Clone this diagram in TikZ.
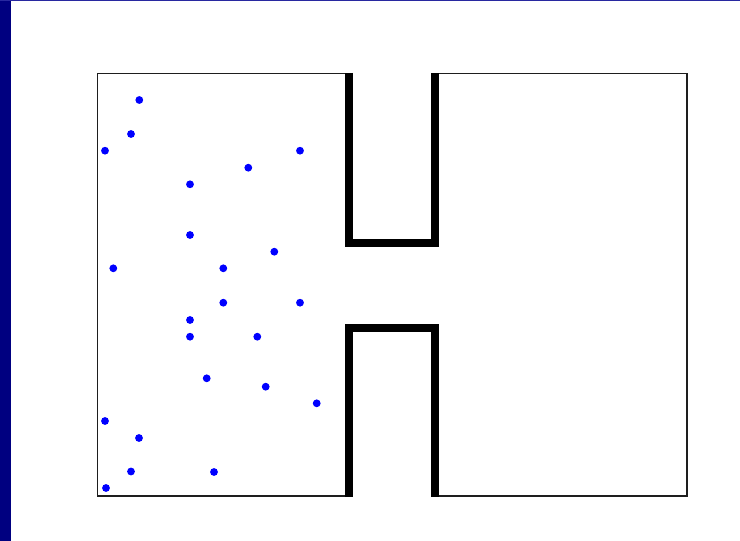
\documentclass[tikz,border=0pt]{standalone}
\definecolor{navybar}{RGB}{0,0,128}
\definecolor{topline}{RGB}{40,40,160}
\definecolor{dotblue}{RGB}{0,0,255}
\definecolor{wallgray}{RGB}{30,30,30}
\tikzset{
  thinwall/.style={draw=wallgray, line width=1.5pt, line join=miter},
  thickwall/.style={draw=black, line width=8pt, line join=miter, line cap=butt},
  particle/.style={fill=dotblue, draw=none},
}
\begin{document}
\begin{tikzpicture}[x=1pt,y=-1pt]
  \useasboundingbox (0,0) rectangle (740,541);
  \fill[white] (0,0) rectangle (740,541);
  % frame
  \fill[navybar] (0,0) rectangle (10.5,541);
  \fill[topline] (0,0) rectangle (740,1.2);
  % thin outline of the two chambers
  \draw[thinwall] (349,73.5) -- (97.5,73.5) -- (97.5,496) -- (349,496);
  \draw[thinwall] (435,73.5) -- (687,73.5) -- (687,496) -- (435,496);
  % thick walls of the channel
  \draw[thickwall] (349,72.8) -- (349,242.5) -- (435,242.5) -- (435,72.8);
  \draw[thickwall] (349,496.7) -- (349,328) -- (435,328) -- (435,496.7);
  % particles
  \foreach \px/\py in {
    139.3/100, 131/134, 105/150.7, 300/150.7, 248.3/167.7, 190/184.3,
    190/235, 274.3/251.7, 113.3/268.3, 223.3/268.3, 223.3/302.7, 300/302.7,
    190/320, 190/336.7, 257.3/336.7, 206.7/378.3, 265.7/386.7, 316.7/403.3,
    105/421, 139/438, 131/471.5, 214/472, 106/488}
    \fill[particle] (\px,\py) circle (3.9);
\end{tikzpicture}
\end{document}
